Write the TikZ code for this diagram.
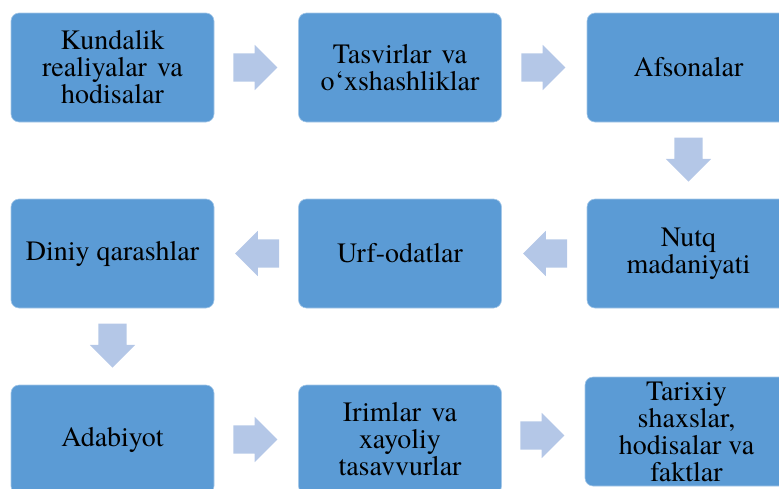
\documentclass[tikz,border=0pt]{standalone}
\usepackage{fontspec}
\setmainfont{TeX Gyre Termes}
\usepackage{tikz}
\usetikzlibrary{shapes.arrows}
\definecolor{boxblue}{HTML}{5B9BD5}
\definecolor{flowblue}{HTML}{B4C7E7}
\newcommand{\widesp}{\hspace{0.36em}}

\begin{document}
\begin{tikzpicture}[x=1pt,y=-1pt,
	stage/.style={fill=boxblue,draw=boxblue!55!white,line width=0.6pt,rounded corners=8pt,
		minimum width=203pt,minimum height=109pt,inner sep=0pt,align=center,
		font=\fontsize{28}{27}\selectfont},
	flow/.style={single arrow,fill=flowblue,draw=none,minimum height=44pt,minimum width=45pt,
		inner xsep=0pt,inner ysep=14pt,single arrow head extend=8.5pt,midway,xshift=-8pt}]
	\useasboundingbox (0,0) rectangle (779,488);
	%% the boxes
	\node[stage] (kundalik) at (112.5,67.5) {Kundalik\\realiyalar\widesp va\\hodisalar};
	\node[stage] (tasvirlar) at (400,67.5) {Tasvirlar\widesp va\\o‘xshashliklar};
	\node[stage] (afsonalar) at (688.5,67.5) {Afsonalar};
	\node[stage] (diniy) at (112.5,253.5) {Diniy qarashlar};
	\node[stage] (urf) at (400,253.5) {Urf-odatlar};
	\node[stage] (nutq) at (688.5,253.5) {Nutq\\madaniyati};
	\node[stage] (adabiyot) at (112.5,439.5) {Adabiyot};
	\node[stage] (irimlar) at (400,439.5) {Irimlar\widesp va\\xayoliy\\tasavvurlar};
	\node[stage] (tarixiy) at (686.5,431.5) {Tarixiy\\shaxslar,\\hodisalar va\\faktlar};
	%% the arrows
	\path (kundalik) -- node[flow] {} (tasvirlar);
	\path (tasvirlar) -- node[flow] {} (afsonalar);
	\path (afsonalar) -- node[rotate=-90,flow] {} (nutq);
	\path (nutq) -- node[rotate=180,flow] {} (urf);
	\path (urf) -- node[rotate=180,flow] {} (diniy);
	\path (diniy) -- node[rotate=-90,flow] {} (adabiyot);
	\path (adabiyot) -- node[flow] {} (irimlar);
	\path (irimlar) -- node[flow] {} (tarixiy);
\end{tikzpicture}
\end{document}
